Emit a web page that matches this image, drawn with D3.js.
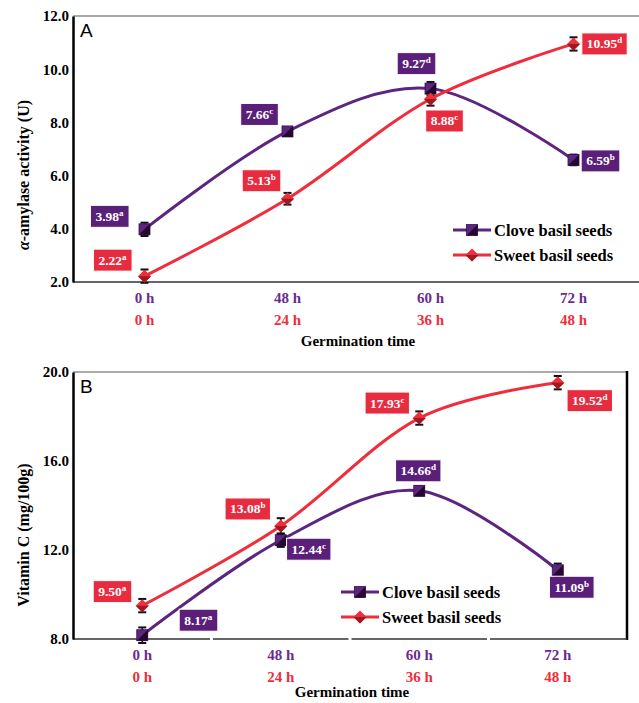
<!DOCTYPE html>
<html>
<head>
<meta charset="utf-8">
<script src="https://cdn.jsdelivr.net/npm/d3@7"></script>
<style>
  body { margin: 0; background: #fff; }
  text { font-family: "Liberation Serif", "Times New Roman", serif; font-weight: bold; }
</style>
</head>
<body>
<svg id="chart" width="639" height="703"></svg>
<script>
// ---- data ----
const cloveHours = ["0 h", "48 h", "60 h", "72 h"];
const sweetHours = ["0 h", "24 h", "36 h", "48 h"];

const amylaseClove = [3.98, 7.66, 9.27, 6.59];
const amylaseSweet = [2.22, 5.13, 8.88, 10.95];
const amylaseCloveErr = [0.25, 0.15, 0.25, 0.2];
const amylaseSweetErr = [0.25, 0.22, 0.25, 0.25];
const amylaseCloveSig = ["a", "c", "d", "b"];
const amylaseSweetSig = ["a", "b", "c", "d"];
const amylaseTicks = [2, 4, 6, 8, 10, 12];

const vitCClove = [8.17, 12.44, 14.66, 11.09];
const vitCSweet = [9.50, 13.08, 17.93, 19.52];
const vitCCloveErr = [0.35, 0.3, 0.2, 0.3];
const vitCSweetErr = [0.3, 0.35, 0.3, 0.3];
const vitCCloveSig = ["a", "c", "d", "b"];
const vitCSweetSig = ["a", "b", "c", "d"];
const vitCTicks = [8, 12, 16, 20];

// label box offsets from their points (layout only)
const amylaseCloveLbl = [[-35, -13], [-28, -17], [-14, -25], [27, 1]];
const amylaseSweetLbl = [[-32, -16], [-26, -18], [14, 22], [31, 0]];
const vitCCloveLbl = [[56, -15], [28, 9], [-1, -20], [14, 17]];
const vitCSweetLbl = [[-30, -14], [-33, -17], [-32, -15], [32, 18]];

const PURPLE = "#5b2580", PURPLE_BOX = "#5a1f78", PURPLE_TXT = "#6a2c8c";
const RED = "#ef2d3b", RED_BOX = "#e82c40";

const svg = d3.select("#chart");

function squareMarker(g, x, y, s) {
  g.append("rect").attr("x", x - s / 2).attr("y", y - s / 2).attr("width", s).attr("height", s)
    .attr("fill", PURPLE).attr("stroke", "#3a1050").attr("stroke-width", 0.8);
  g.append("path").attr("d", `M${x + s / 2},${y - s / 2}L${x + s / 2},${y + s / 2}L${x - s / 2},${y + s / 2}Z`)
    .attr("fill", "#24082f");
}
function diamondMarker(g, x, y, s) {
  g.append("path").attr("d", `M${x},${y - s / 2}L${x + s / 2},${y}L${x},${y + s / 2}L${x - s / 2},${y}Z`)
    .attr("fill", RED);
  g.append("path").attr("d", `M${x + s / 2},${y}L${x},${y + s / 2}L${x - s / 2},${y}Z`)
    .attr("fill", "#a01822");
}

function drawPanel(p) {
  const g = svg.append("g");
  const x = d3.scalePoint().domain(d3.range(4)).range([p.left, p.right]).padding(0.5);
  const y = d3.scaleLinear().domain(p.domain).range([p.bottom, p.top]);

  // frame
  g.append("line").attr("x1", p.left).attr("x2", p.frameRight).attr("y1", p.top).attr("y2", p.top)
    .attr("stroke", "#555").attr("stroke-width", 1);
  if (p.rightBorder)
    g.append("line").attr("x1", p.frameRight).attr("x2", p.frameRight).attr("y1", p.top - 1).attr("y2", p.bottom + 1)
      .attr("stroke", "#000").attr("stroke-width", 2.5);

  // x axis line, optional gaps at category boundaries
  const bounds = [p.left, p.left + (p.right - p.left) / 4, p.left + (p.right - p.left) / 2,
    p.left + 3 * (p.right - p.left) / 4, p.frameRight];
  if (p.gaps) {
    for (let i = 0; i < 4; i++)
      g.append("line").attr("x1", bounds[i] + (i ? 1.5 : 0)).attr("x2", bounds[i + 1] - (i < 3 ? 1.5 : 0))
        .attr("y1", p.bottom).attr("y2", p.bottom).attr("stroke", "#333").attr("stroke-width", 1.5);
  } else {
    g.append("line").attr("x1", p.left).attr("x2", p.frameRight).attr("y1", p.bottom).attr("y2", p.bottom)
      .attr("stroke", "#333").attr("stroke-width", 1.5);
  }

  // y axis
  const yAxis = g.append("g").attr("transform", `translate(${p.left},0)`)
    .call(d3.axisLeft(y).tickValues(p.ticks).tickFormat(d3.format(".1f")).tickSize(0).tickPadding(4));
  yAxis.select(".domain").attr("stroke", "#000").attr("stroke-width", 2.5);
  yAxis.selectAll("text").attr("font-size", 15).attr("fill", "#000");

  g.append("text").attr("x", p.left + 7).attr("y", p.top + 21).text(p.letter)
    .style("font-family", "'Liberation Sans', Arial, sans-serif").style("font-weight", "normal")
    .attr("font-size", 19);

  // x tick labels
  cloveHours.forEach((h, i) => {
    g.append("text").attr("x", x(i)).attr("y", p.bottom + 21).attr("text-anchor", "middle")
      .attr("font-size", 15).attr("fill", PURPLE_TXT).text(h);
    g.append("text").attr("x", x(i)).attr("y", p.bottom + 43).attr("text-anchor", "middle")
      .attr("font-size", 15).attr("fill", RED).text(sweetHours[i]);
  });
  g.append("text").attr("x", p.xTitleX).attr("y", p.bottom + p.xTitleDy).attr("text-anchor", "middle")
    .attr("font-size", 15).text("Germination time");

  // y title
  const yt = g.append("text").attr("transform", `translate(29,${p.yTitleY}) rotate(-90)`)
    .attr("text-anchor", "middle").attr("font-size", 16);
  p.yTitle(yt);

  const line = d3.line().x((d, i) => x(i)).y(d => y(d)).curve(d3.curveCardinal.tension(0));
  const series = [
    { vals: p.clove, err: p.cloveErr, sig: p.cloveSig, lbl: p.cloveLbl, color: PURPLE, box: PURPLE_BOX, marker: squareMarker, size: 11 },
    { vals: p.sweet, err: p.sweetErr, sig: p.sweetSig, lbl: p.sweetLbl, color: RED, box: RED_BOX, marker: diamondMarker, size: 13 }
  ];
  series.forEach(s => {
    g.append("path").datum(s.vals).attr("d", line).attr("fill", "none")
      .attr("stroke", s.color).attr("stroke-width", 3);
  });
  series.forEach(s => {
    s.vals.forEach((v, i) => {
      const cx = x(i);
      const eg = g.append("g").attr("stroke", "#111").attr("stroke-width", 1.6);
      eg.append("line").attr("x1", cx).attr("x2", cx).attr("y1", y(v - s.err[i])).attr("y2", y(v + s.err[i]));
      [v - s.err[i], v + s.err[i]].forEach(e =>
        eg.append("line").attr("x1", cx - 4).attr("x2", cx + 4).attr("y1", y(e)).attr("y2", y(e)).attr("stroke-width", 2));
      s.marker(g, cx, y(v), s.size);
    });
  });
  // value labels
  series.forEach(s => {
    s.vals.forEach((v, i) => {
      const lx = x(i) + s.lbl[i][0], ly = y(v) + s.lbl[i][1];
      const lg = g.append("g");
      const t = lg.append("text").attr("x", lx).attr("y", ly + 4.5).attr("text-anchor", "middle")
        .attr("font-size", 13.5).attr("fill", "#fff");
      t.append("tspan").text(v.toFixed(2));
      t.append("tspan").attr("font-size", 9).attr("dy", -5).text(s.sig[i]);
      const bb = t.node().getBBox();
      lg.insert("rect", "text").attr("x", bb.x - 5).attr("y", ly - 11).attr("width", bb.width + 10).attr("height", 22)
        .attr("fill", s.box).attr("stroke", "#fff").attr("stroke-width", 1);
    });
  });

  // legend
  [["Clove basil seeds", PURPLE, squareMarker, 11], ["Sweet basil seeds", RED, diamondMarker, 13]].forEach((d, i) => {
    const ly = p.legendY + i * 25;
    g.append("line").attr("x1", p.legendX).attr("x2", p.legendX + 38).attr("y1", ly).attr("y2", ly)
      .attr("stroke", d[1]).attr("stroke-width", 3);
    d[2](g, p.legendX + 19, ly, d[3]);
    g.append("text").attr("x", p.legendX + 41).attr("y", ly + 5.5).attr("font-size", 16.5).text(d[0]);
  });
}

drawPanel({
  letter: "A", left: 73, right: 645, frameRight: 645, top: 16, bottom: 282, domain: [2, 12],
  ticks: amylaseTicks, clove: amylaseClove, sweet: amylaseSweet,
  cloveErr: amylaseCloveErr, sweetErr: amylaseSweetErr, cloveSig: amylaseCloveSig, sweetSig: amylaseSweetSig,
  cloveLbl: amylaseCloveLbl, sweetLbl: amylaseSweetLbl,
  legendX: 453, legendY: 230, xTitleX: 358, xTitleDy: 64, yTitleY: 175, gaps: false, rightBorder: false,
  yTitle: t => {
    t.append("tspan").attr("font-style", "italic").text("α");
    t.append("tspan").text("-amylase activity (U)");
  }
});

drawPanel({
  letter: "B", left: 73, right: 627, frameRight: 627, top: 372, bottom: 639, domain: [8, 20],
  ticks: vitCTicks, clove: vitCClove, sweet: vitCSweet,
  cloveErr: vitCCloveErr, sweetErr: vitCSweetErr, cloveSig: vitCCloveSig, sweetSig: vitCSweetSig,
  cloveLbl: vitCCloveLbl, sweetLbl: vitCSweetLbl,
  legendX: 341, legendY: 592, xTitleX: 352, xTitleDy: 58, yTitleY: 535, gaps: true, rightBorder: true,
  yTitle: t => t.text("Vitamin C (mg/100g)")
});
</script>
</body>
</html>
